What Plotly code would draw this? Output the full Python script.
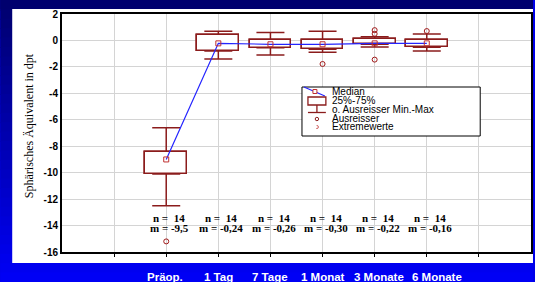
import plotly.graph_objects as go

# ---------------- data ----------------
categories = ["Präop.", "1 Tag", "7 Tage", "1 Monat", "3 Monate", "6 Monate"]
q1 = [-10.1, -0.8, -0.55, -0.67, -0.28, -0.52]
q3 = [-8.45, 0.4, 0.0, 0.0, 0.1, 0.0]
whisker_low = [-12.5, -1.4, -1.1, -0.9, -0.5, -0.8]
whisker_high = [-6.6, 0.7, 0.6, 0.7, 0.28, 0.49]
medians = [-9.0, -0.22, -0.29, -0.29, -0.22, -0.22]
outlier_cat = [0, 3, 4, 4, 4, 5]
outlier_val = [-15.2, -1.78, 0.78, 0.5, -1.45, 0.71]
n_values = [14, 14, 14, 14, 14, 14]
m_labels = ["-9,5", "-0,24", "-0,26", "-0,30", "-0,22", "-0,16"]
y_ticks = [2, 0, -2, -4, -6, -8, -10, -12, -14, -16]
legend_labels = ["Median", "25%-75%", "o. Ausreisser Min.-Max", "Ausreisser", "Extremewerte"]

RED = "#8b1c1c"
BLUE = "#2424ff"
W, H = 535, 282
L, R, T, B = 62, 2, 14, 30
PW, PH = W - L - R, H - T - B

def px(x):
    return (x - L) / PW

def py(y):
    return (H - B - y) / PH

xs = list(range(len(categories)))

fig = go.Figure()

# box: upper half with upper whisker
fig.add_trace(go.Bar(
    x=xs, base=q1, y=[b - a for a, b in zip(q1, q3)], width=0.8,
    marker=dict(color="white", line=dict(color=RED, width=1.5)),
    error_y=dict(type="data", symmetric=False,
                 array=[h - b for h, b in zip(whisker_high, q3)],
                 arrayminus=[0] * len(xs), color=RED, thickness=1.5, width=14),
    showlegend=False, hoverinfo="skip"))
# same box reversed, lower whisker
fig.add_trace(go.Bar(
    x=xs, base=q3, y=[a - b for a, b in zip(q1, q3)], width=0.8,
    marker=dict(color="white", line=dict(color=RED, width=1.5)),
    error_y=dict(type="data", symmetric=False,
                 array=[0] * len(xs),
                 arrayminus=[a - l for a, l in zip(q1, whisker_low)],
                 color=RED, thickness=1.5, width=14),
    showlegend=False, hoverinfo="skip"))

fig.add_trace(go.Scatter(
    x=xs, y=medians, mode="lines+markers",
    line=dict(color=BLUE, width=1.2),
    marker=dict(symbol="square-open", size=5, color="#c03030", line=dict(width=1)),
    showlegend=False, hoverinfo="skip"))

fig.add_trace(go.Scatter(
    x=outlier_cat, y=outlier_val, mode="markers",
    marker=dict(symbol="circle-open", size=5, color="#a01818", line=dict(width=1)),
    showlegend=False, hoverinfo="skip"))

shapes = []
# background gradient
nb = 30
c0 = (0, 0, 0x6e)
c1 = (0, 0, 0xf5)
for i in range(nb):
    t = i / (nb - 1)
    col = "rgb(%d,%d,%d)" % tuple(round(a + (b - a) * t) for a, b in zip(c0, c1))
    y0 = i * H / nb
    y1 = (i + 1) * H / nb + 1
    shapes.append(dict(type="rect", xref="paper", yref="paper", layer="below",
                       x0=px(0), x1=px(W), y0=py(y1), y1=py(y0),
                       fillcolor=col, line=dict(width=0)))
# top band stays navy
shapes.append(dict(type="rect", xref="paper", yref="paper", layer="below",
                   x0=px(0), x1=px(W), y0=py(9), y1=py(0),
                   fillcolor="#00006e", line=dict(width=0)))
# white panel
shapes.append(dict(type="rect", xref="paper", yref="paper", layer="below",
                   x0=px(12), x1=px(W), y0=py(263), y1=py(9),
                   fillcolor="white", line=dict(width=0)))

# legend box
shapes.append(dict(type="rect", xref="paper", yref="paper", layer="above",
                   x0=px(303), x1=px(482), y0=py(136), y1=py(87),
                   fillcolor="white", line=dict(color="black", width=1)))
# median symbol
shapes.append(dict(type="line", xref="paper", yref="paper", layer="above",
                   x0=px(305), x1=px(326), y0=py(87), y1=py(96),
                   line=dict(color=BLUE, width=1.2)))
shapes.append(dict(type="rect", xref="paper", yref="paper", layer="above",
                   x0=px(314), x1=px(318), y0=py(93.5), y1=py(89.5),
                   fillcolor="white", line=dict(color="#c03030", width=1)))
# box symbol
shapes.append(dict(type="rect", xref="paper", yref="paper", layer="above",
                   x0=px(309), x1=px(327), y0=py(105), y1=py(97),
                   fillcolor="white", line=dict(color=RED, width=1.3)))
# whisker symbol
shapes.append(dict(type="line", xref="paper", yref="paper", layer="above",
                   x0=px(318), x1=px(318), y0=py(112.5), y1=py(105),
                   line=dict(color=RED, width=1.3)))
shapes.append(dict(type="line", xref="paper", yref="paper", layer="above",
                   x0=px(309), x1=px(327), y0=py(112.5), y1=py(112.5),
                   line=dict(color=RED, width=1.3)))
# ausreisser symbol
shapes.append(dict(type="circle", xref="paper", yref="paper", layer="above",
                   x0=px(316.3), x1=px(319.7), y0=py(120.7), y1=py(117.3),
                   line=dict(color=RED, width=1)))
# extremwerte symbol
shapes.append(dict(type="circle", xref="paper", yref="paper", layer="above",
                   x0=px(316.5), x1=px(319.5), y0=py(128.5), y1=py(125.5),
                   line=dict(color="#d06060", width=1, dash="dot")))

annotations = []
legend_rows = [91.5, 100.5, 109, 118, 126.8]
for lab, yy in zip(legend_labels, legend_rows):
    annotations.append(dict(text=lab, xref="paper", yref="paper",
                            x=px(331), y=py(yy), xanchor="left", yanchor="middle",
                            showarrow=False,
                            font=dict(family="Liberation Sans, Arial", size=10, color="black")))

# n / m texts
for i, (n, m) in enumerate(zip(n_values, m_labels)):
    annotations.append(dict(text="<b>n =  %d</b>" % n, x=i + 0.06, y=-13.45,
                            xref="x", yref="y", showarrow=False,
                            xanchor="center", yanchor="middle",
                            font=dict(family="Liberation Serif, Times New Roman", size=11, color="black")))
    annotations.append(dict(text="<b>m = %s</b>" % m, x=i + 0.06, y=-14.15,
                            xref="x", yref="y", showarrow=False,
                            xanchor="center", yanchor="middle",
                            font=dict(family="Liberation Serif, Times New Roman", size=11, color="black")))

# category labels in the blue band
label_offsets = [-0.02, 0.0, 0.0, 0.0, 0.08, 0.2]
for i, (c, o) in enumerate(zip(categories, label_offsets)):
    annotations.append(dict(text="<b>%s</b>" % c, x=i + o, y=py(276.5),
                            xref="x", yref="paper", showarrow=False,
                            xanchor="center", yanchor="middle",
                            font=dict(family="Liberation Sans, Arial", size=11.5, color="white")))

# y axis title
annotations.append(dict(text="Sphärisches Äquivalent in dpt", xref="paper", yref="paper",
                        x=px(29), y=py(126), textangle=-90, showarrow=False,
                        xanchor="center", yanchor="middle",
                        font=dict(family="Liberation Serif, Times New Roman", size=12, color="black")))

fig.update_layout(
    width=W, height=H,
    margin=dict(l=L, r=R, t=T, b=B, pad=0),
    paper_bgcolor="#0000e8",
    plot_bgcolor="white",
    barmode="overlay",
    bargap=0,
    showlegend=False,
    shapes=shapes,
    annotations=annotations,
    xaxis=dict(range=[-2, 7], tickvals=list(range(-1, 7)), showticklabels=False,
               showgrid=True, gridcolor="#d4d4d4", gridwidth=1,
               showline=True, linecolor="black", linewidth=2, mirror=True,
               ticks="outside", ticklen=3, tickcolor="black", zeroline=False),
    yaxis=dict(range=[-16, 2], tickvals=y_ticks, ticktext=[str(v) for v in y_ticks],
               showgrid=True, gridcolor="#d4d4d4", gridwidth=1,
               showline=True, linecolor="black", linewidth=2, mirror=True,
               ticks="", zeroline=False,
               tickfont=dict(family="Liberation Sans, Arial", size=10, color="black", weight="bold")),
)

fig.write_html("out.html", config={"displayModeBar": False},
               post_script="document.body.style.margin='0';document.body.style.overflow='hidden';")
